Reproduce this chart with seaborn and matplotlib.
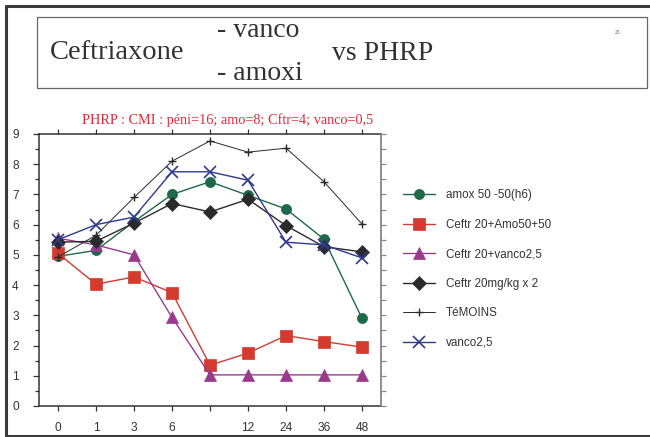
import numpy as np
import pandas as pd
import matplotlib
matplotlib.use("Agg")
import matplotlib.pyplot as plt
from matplotlib.lines import Line2D
from matplotlib.patches import Rectangle
from matplotlib.ticker import MultipleLocator
import seaborn as sns

# Sampling times (hours); the fifth sample carries no label on the axis
time_labels = ["0", "1", "3", "6", "", "12", "24", "36", "48"]

# Bacterial counts (log10 CFU/ml) per regimen
amox_50 = [4.95, 5.15, 6.1, 7.0, 7.42, 6.97, 6.52, 5.52, 2.9]
ceftr_amo = [5.05, 4.03, 4.27, 3.75, 1.35, 1.75, 2.33, 2.13, 1.95]
ceftr_vanco = [5.55, 5.33, 5.0, 2.93, 1.03, 1.03, 1.03, 1.03, 1.03]
ceftr_20x2 = [5.42, 5.45, 6.05, 6.7, 6.42, 6.84, 5.97, 5.27, 5.1]
temoins = [4.93, 5.65, 6.9, 8.1, 8.77, 8.4, 8.53, 7.42, 6.02]
vanco_25 = [5.5, 6.0, 6.25, 7.75, 7.75, 7.47, 5.42, 5.33, 4.9]

series_names = ["amox 50 -50(h6)", "Ceftr 20+Amo50+50", "Ceftr 20+vanco2,5",
                "Ceftr 20mg/kg x 2", "TéMOINS", "vanco2,5"]
series_values = [amox_50, ceftr_amo, ceftr_vanco, ceftr_20x2, temoins, vanco_25]

styles = [
    dict(color="#1d6a48", marker="o", markersize=7.3, linewidth=1.0, markeredgewidth=0.5),
    dict(color="#d43a2e", marker="s", markersize=8.3, linewidth=1.0, markeredgewidth=0.5),
    dict(color="#9a3a8c", marker="^", markersize=9.0, linewidth=1.0, markeredgewidth=0.5),
    dict(color="#2b2b2e", marker="D", markersize=7.0, linewidth=1.0, markeredgewidth=0.5),
    dict(color="#2a2a2a", marker="+", markersize=6.0, linewidth=0.7, markeredgewidth=1.0),
    dict(color="#2f3a8e", marker="x", markersize=8.0, linewidth=1.0, markeredgewidth=1.2),
]

sns.set_style("ticks")
plt.rcParams["font.family"] = ["Liberation Sans", "DejaVu Sans"]

W, H = 650, 437
fig = plt.figure(figsize=(W / 100, H / 100), dpi=100)


def fx(px):
    return px / W


def fy(py):
    return 1 - py / H


ax = fig.add_axes([fx(39), fy(406), fx(381) - fx(39), fy(134) - fy(406)])

pos = np.arange(len(time_labels))
frames = []
for name, vals in zip(series_names, series_values):
    frames.append(pd.DataFrame({"pos": pos, "value": vals, "series": name}))
df = pd.concat(frames, ignore_index=True)

for name, st in zip(series_names, styles):
    sub = df[df["series"] == name]
    sns.lineplot(data=sub, x="pos", y="value", ax=ax, label=name,
                 color=st["color"], marker=st["marker"],
                 markersize=st["markersize"], linewidth=st["linewidth"],
                 markeredgecolor=st["color"], markerfacecolor=st["color"],
                 markeredgewidth=st["markeredgewidth"], sort=False)

ax.set_xlim(-0.5, len(time_labels) - 0.5)
ax.set_ylim(0, 9)
ax.set_xlabel("")
ax.set_ylabel("")
ax.set_xticks(pos)
ax.set_xticklabels(time_labels)
ax.yaxis.set_major_locator(MultipleLocator(1))
ax.yaxis.set_minor_locator(MultipleLocator(0.5))

spine_col = "#333333"
for side in ["left", "bottom", "top"]:
    ax.spines[side].set_color(spine_col)
    ax.spines[side].set_linewidth(1.1)
ax.spines["right"].set_color("#8a8a8a")
ax.spines["right"].set_linewidth(1.1)

ax.tick_params(axis="x", which="major", direction="out", length=3.5, width=0.9,
               color=spine_col, top=True, bottom=True, labelsize=8.6,
               labelcolor="#333333", pad=8)
ax.tick_params(axis="y", which="major", direction="out", length=4.5, width=0.9,
               color=spine_col, labelsize=8.6, labelcolor="#333333", pad=10,
               right=False)
ax.tick_params(axis="y", which="minor", direction="out", length=3, width=0.9,
               color=spine_col, right=False)

# right-hand axis: lighter ticks every half unit
axr = ax.twinx()
axr.set_ylim(0, 9)
axr.yaxis.set_major_locator(MultipleLocator(0.5))
axr.tick_params(axis="y", direction="out", length=3.5, width=0.9, color="#8a8a8a",
                labelright=False)
for side in ["left", "bottom", "top"]:
    axr.spines[side].set_visible(False)
axr.spines["right"].set_color("#8a8a8a")
axr.spines["right"].set_linewidth(1.1)
axr.grid(False)

handles, labels = ax.get_legend_handles_labels()
if ax.legend_:
    ax.legend_.remove()
fig.legend(handles, labels, loc="center left",
           bbox_to_anchor=(fx(403), fy(269)), bbox_transform=fig.transFigure,
           frameon=False, fontsize=8.4, handlelength=2.7, handletextpad=1.0,
           labelspacing=1.5, borderpad=0, borderaxespad=0, labelcolor="#333333")

# page frame
frame_col = "#3a3a3a"
fig.add_artist(Line2D([fx(6), 1], [fy(6), fy(6)], color=frame_col, lw=2.2,
                      transform=fig.transFigure))
fig.add_artist(Line2D([fx(6), fx(6)], [fy(6), fy(436)], color=frame_col, lw=2.2,
                      transform=fig.transFigure))
fig.add_artist(Line2D([fx(6), 1], [fy(436), fy(436)], color=frame_col, lw=2.2,
                      transform=fig.transFigure))

# title box
fig.add_artist(Rectangle((fx(37), fy(88)), fx(647) - fx(37), fy(17) - fy(88),
                         fill=False, edgecolor="#666666", lw=0.9,
                         transform=fig.transFigure))
serif = ["Liberation Serif", "DejaVu Serif"]
tcol = "#333333"
fig.text(fx(50), fy(59), "Ceftriaxone", family=serif, fontsize=20.5, color=tcol,
         ha="left", va="baseline")
fig.text(fx(217), fy(37), "- vanco", family=serif, fontsize=20, color=tcol,
         ha="left", va="baseline")
fig.text(fx(217), fy(80), "- amoxi", family=serif, fontsize=20, color=tcol,
         ha="left", va="baseline")
fig.text(fx(332), fy(60), "vs PHRP", family=serif, fontsize=20, color=tcol,
         ha="left", va="baseline")
fig.text(fx(618), fy(32), "25", family=serif, fontsize=4, color="#555555",
         ha="center", va="center")

fig.text(fx(82), fy(124), "PHRP : CMI : péni=16; amo=8; Cftr=4; vanco=0,5",
         family=serif, fontsize=10.3, color="#e5283c", ha="left", va="baseline")

fig.savefig("out.png", dpi=100)
